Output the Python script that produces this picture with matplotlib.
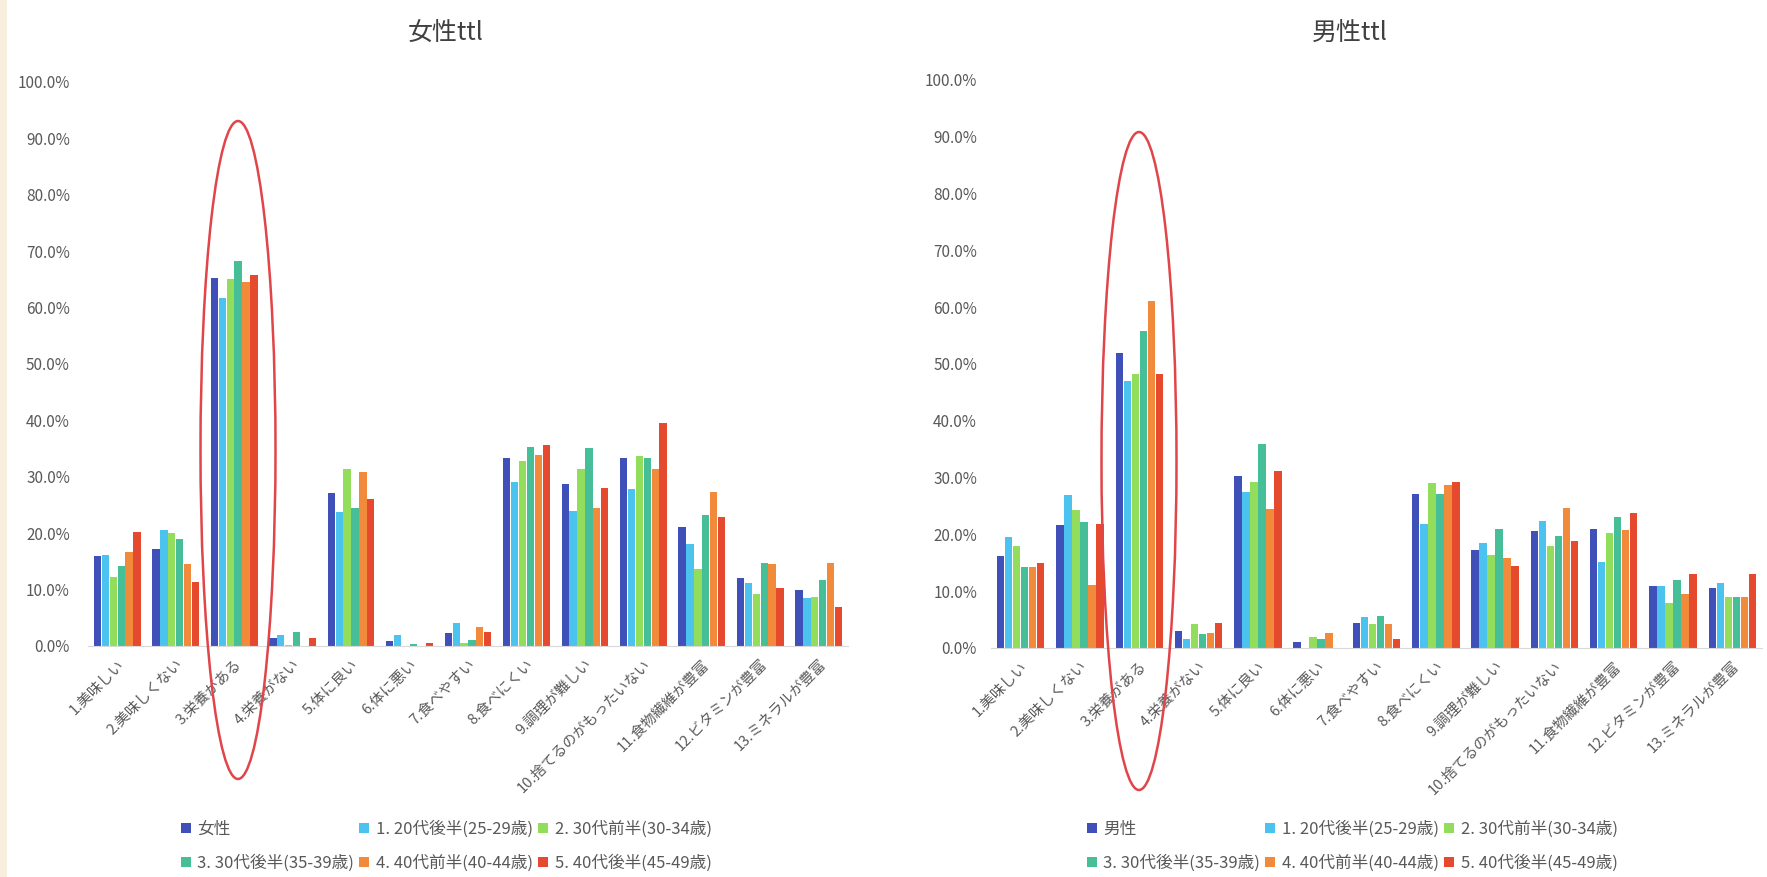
import matplotlib.pyplot as plt
import numpy as np
from matplotlib.patches import Ellipse, Rectangle
from matplotlib.ticker import PercentFormatter

plt.rcParams['font.family'] = ['Noto Sans CJK JP', 'DejaVu Sans']

categories = ['1.美味しい', '2.美味しくない', '3.栄養がある', '4.栄養がない', '5.体に良い',
              '6.体に悪い', '7.食べやすい', '8.食べにくい', '9.調理が難しい',
              '10.捨てるのがもったいない', '11.食物繊維が豊富', '12.ビタミンが豊富', '13.ミネラルが豊富']
age_labels = ['1. 20代後半(25-29歳)', '2. 30代前半(30-34歳)', '3. 30代後半(35-39歳)',
              '4. 40代前半(40-44歳)', '5. 40代後半(45-49歳)']

# women (%)
f_total = [16.0, 17.2, 65.2, 1.4, 27.2, 0.8, 2.3, 33.4, 28.8, 33.3, 21.1, 12.0, 10.0]
f_2529 = [16.2, 20.6, 61.7, 2.0, 23.8, 2.0, 4.0, 29.1, 23.9, 27.8, 18.1, 11.2, 8.5]
f_3034 = [12.3, 20.0, 65.0, 0.2, 31.3, 0.0, 0.5, 32.8, 31.4, 33.7, 13.6, 9.3, 8.6]
f_3539 = [14.1, 19.0, 68.2, 2.5, 24.5, 0.4, 1.0, 35.2, 35.1, 33.3, 23.3, 14.8, 11.7]
f_4044 = [16.6, 14.6, 64.6, 0.0, 30.8, 0.0, 3.4, 33.8, 24.4, 31.4, 27.3, 14.6, 14.7]
f_4549 = [20.3, 11.4, 65.8, 1.4, 26.1, 0.6, 2.5, 35.6, 28.1, 39.5, 22.9, 10.3, 6.9]

# men (%)
m_total = [16.2, 21.6, 52.0, 3.0, 30.2, 1.1, 4.4, 27.1, 17.3, 20.6, 21.0, 11.0, 10.5]
m_2529 = [19.6, 26.9, 47.0, 1.5, 27.4, 0.0, 5.5, 21.8, 18.4, 22.3, 15.2, 11.0, 11.5]
m_3034 = [17.9, 24.3, 48.3, 4.2, 29.2, 2.0, 4.2, 29.0, 16.3, 17.9, 20.2, 8.0, 9.0]
m_3539 = [14.2, 22.1, 55.8, 2.4, 36.0, 1.5, 5.7, 27.1, 20.9, 19.8, 23.0, 12.0, 9.0]
m_4044 = [14.2, 11.1, 61.1, 2.6, 24.5, 2.6, 4.2, 28.7, 15.9, 24.7, 20.8, 9.5, 9.0]
m_4549 = [15.0, 21.8, 48.3, 4.4, 31.2, 0.0, 1.5, 29.2, 14.4, 18.9, 23.8, 13.0, 13.0]

colors = ['#3f51b8', '#4cc3ef', '#92dd5c', '#46bf98', '#f28a3c', '#e64a2e']
grey = '#595959'

fig = plt.figure(figsize=(17.67, 8.77), dpi=100)
fig.add_artist(Rectangle((0, 0), 7 / 1767, 1, transform=fig.transFigure,
                         facecolor='#f7eedd', edgecolor='none'))


def draw_panel(rect, series, names, title, title_x, legend_x, ypad):
    ax = fig.add_axes(rect)
    x = np.arange(len(categories))
    for i, (vals, name) in enumerate(zip(series, names)):
        ax.bar(x + (i - 2.5) * 0.135, np.array(vals) / 100, width=0.125,
               color=colors[i], label=name)
    ax.set_xlim(-0.5, len(categories) - 0.5)
    ax.set_ylim(0, 1)
    ax.set_yticks(np.arange(0, 1.01, 0.1))
    ax.yaxis.set_major_formatter(PercentFormatter(1.0, decimals=1))
    ax.set_xticks(x)
    ax.set_xticklabels(categories, rotation=45, ha='right', rotation_mode='anchor')
    ax.tick_params(axis='both', length=0, colors=grey)
    ax.tick_params(axis='y', pad=ypad, labelsize=11)
    ax.tick_params(axis='x', pad=8, labelsize=10.5)
    for s in ['top', 'right', 'left']:
        ax.spines[s].set_visible(False)
    ax.spines['bottom'].set_color('#d9d9d9')
    fig.text(title_x, 0.961, title, ha='center', va='center', fontsize=18, color='#404040')

    # row-major order for a 3-column legend
    h, l = ax.get_legend_handles_labels()
    order = [0, 3, 1, 4, 2, 5]
    fig.legend([h[k] for k in order], [l[k] for k in order], ncol=3,
               loc='upper left', bbox_to_anchor=(legend_x, 0.072),
               frameon=False, fontsize=12, labelcolor=grey,
               handlelength=0.6, handleheight=0.6, handletextpad=0.4,
               columnspacing=0.3, labelspacing=1.0, borderaxespad=0)
    return ax


draw_panel([88 / 1767, 231 / 877, 760 / 1767, 564 / 877],
           [f_total, f_2529, f_3034, f_3539, f_4044, f_4549],
           ['女性'] + age_labels, '女性ttl', 446 / 1767, 174 / 1767, 13)
draw_panel([991 / 1767, 229 / 877, 771 / 1767, 568 / 877],
           [m_total, m_2529, m_3034, m_3539, m_4044, m_4549],
           ['男性'] + age_labels, '男性ttl', 1350 / 1767, 1080 / 1767, 10)

# highlight ellipses
for cx, cy in [(238, 450), (1139, 461)]:
    fig.add_artist(Ellipse((cx / 1767, 1 - cy / 877), 75 / 1767, 658 / 877,
                           transform=fig.transFigure, fill=False,
                           edgecolor='#e0454a', linewidth=1.8))

plt.savefig('out.png')
